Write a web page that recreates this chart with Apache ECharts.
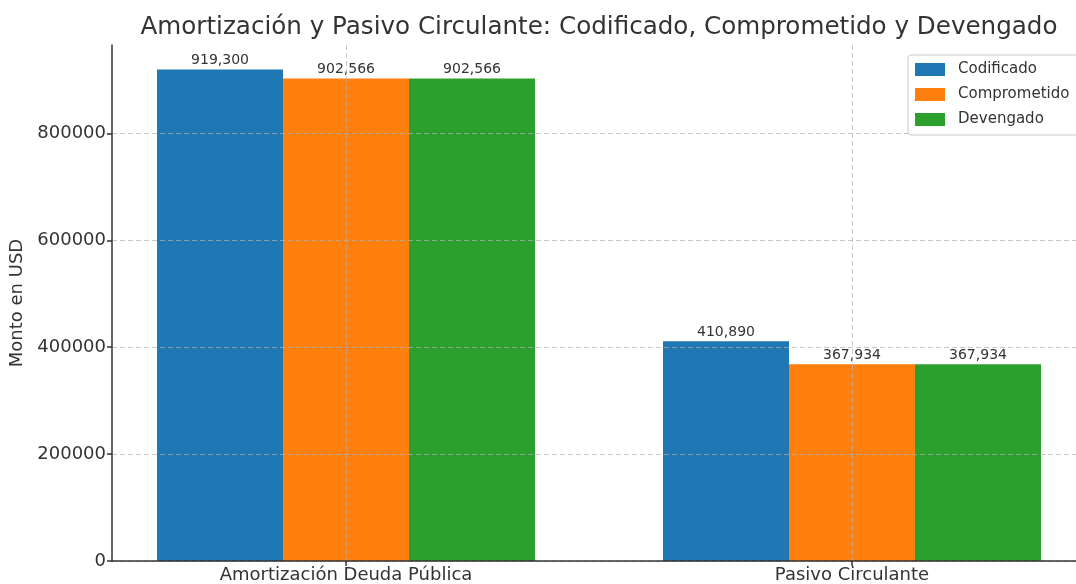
<!DOCTYPE html>
<html>
<head>
<meta charset="utf-8">
<script src="https://cdn.jsdelivr.net/npm/echarts@6/dist/echarts.min.js"></script>
<style>
  html, body { margin: 0; padding: 0; background: #fff; }
  #chart { width: 1076px; height: 584px; }
</style>
</head>
<body>
<div id="chart"></div>
<script>
// categories and values
const categories = ['Amortización Deuda Pública', 'Pasivo Circulante'];
const codificado = [919300, 410890];
const comprometido = [902566, 367934];
const devengado = [902566, 367934];
const seriesNames = ['Codificado', 'Comprometido', 'Devengado'];
const colors = ['#1f77b4', '#ff7f0e', '#2ca02c'];
const yTicks = [0, 200000, 400000, 600000, 800000];

const FONT = 'DejaVu Sans';
const chart = echarts.init(document.getElementById('chart'));

function fmt(v) {
  return v.toString().replace(/\B(?=(\d{3})+(?!\d))/g, ',');
}

const catIdx = categories.map((c, i) => i);

const series = [codificado, comprometido, devengado].map((vals, s) => ({
  name: seriesNames[s],
  type: 'bar',
  barWidth: 126,
  barGap: '0%',
  z: 2,
  itemStyle: { color: colors[s] },
  label: {
    show: true,
    position: 'top',
    distance: 2,
    fontFamily: FONT,
    fontSize: 14,
    color: '#333',
    formatter: p => fmt(p.value[1])
  },
  data: vals.map((v, i) => [catIdx[i], v])
}));

const option = {
  animation: false,
  backgroundColor: '#fff',
  textStyle: { fontFamily: FONT },
  title: {
    text: 'Amortización y Pasivo Circulante: Codificado, Comprometido y Devengado',
    left: 594,
    top: 10,
    textAlign: 'center',
    textStyle: { fontFamily: FONT, fontSize: 24.6, fontWeight: 'normal', color: '#333' }
  },
  legend: {
    orient: 'vertical',
    left: 908,
    top: 55,
    padding: [7, 20, 8, 7],
    itemWidth: 30,
    itemHeight: 13,
    itemGap: 10,
    icon: 'rect',
    borderColor: '#ccc',
    borderWidth: 1,
    borderRadius: 3,
    backgroundColor: '#fff',
    textStyle: { fontFamily: FONT, fontSize: 15, color: '#333', padding: [0, 0, 0, 8] },
    data: seriesNames
  },
  // plot runs off the right edge in the reference
  grid: { left: 112, top: 45, right: 0, bottom: 23 },
  xAxis: {
    type: 'value',
    min: -0.4625,
    max: 1.4427,
    z: 3,
    axisLine: { show: true, onZero: false, lineStyle: { color: '#333', width: 1.5 } },
    axisTick: { show: true, length: 5, customValues: catIdx, lineStyle: { color: '#333', width: 1.5 } },
    axisLabel: {
      customValues: catIdx,
      formatter: v => categories[Math.round(v)] || '',
      fontFamily: FONT, fontSize: 18, color: '#333', margin: 5
    },
    splitLine: { show: true, lineStyle: { color: 'rgba(176,176,176,0.7)', type: [5, 3], width: 1 } }
  },
  yAxis: {
    type: 'value',
    min: 0,
    max: 965265,
    z: 3,
    name: 'Monto en USD',
    nameLocation: 'middle',
    nameGap: 84,
    nameTextStyle: { fontFamily: FONT, fontSize: 18, color: '#333' },
    axisLine: { show: true, onZero: false, lineStyle: { color: '#333', width: 1.5 } },
    axisTick: { show: true, length: 5, customValues: yTicks, lineStyle: { color: '#333', width: 1.5 } },
    axisLabel: {
      customValues: yTicks,
      formatter: v => String(v),
      fontFamily: FONT, fontSize: 18, color: '#333', margin: 6
    },
    splitLine: { show: true, lineStyle: { color: 'rgba(176,176,176,0.7)', type: [5, 3], width: 1 } }
  },
  series: series
};

chart.setOption(option);
</script>
</body>
</html>
